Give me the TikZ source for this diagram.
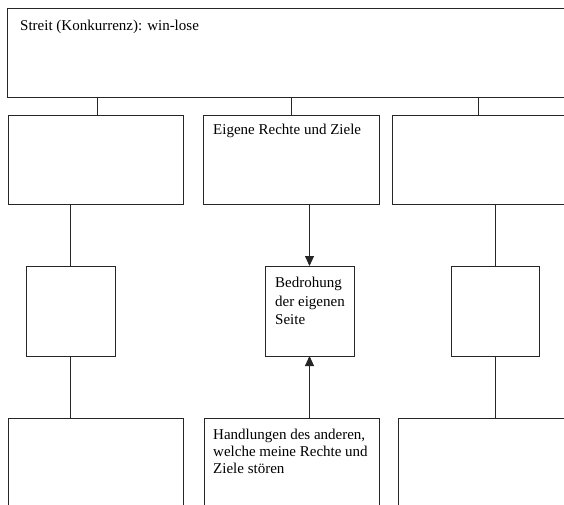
\documentclass[tikz,border=0pt]{standalone}
\usepackage{fontspec}
\setmainfont{Liberation Serif}
\usetikzlibrary{arrows.meta}
\begin{document}
\begin{tikzpicture}[x=1pt,y=-1pt,
  box/.style={draw=black!85, line width=0.9pt, rectangle, inner sep=0pt, outer sep=0pt, anchor=north west},
  lbl/.style={inner sep=0pt, font=\fontsize{15}{17}\selectfont, align=left},
  conn/.style={draw=black!85, line width=0.9pt},
  arr/.style={conn, -{Triangle[length=10pt,width=9pt]}}]
\useasboundingbox (0,0) rectangle (564,505);
\clip (0,0) rectangle (564,505);
% top box
\node[box, minimum width=600pt, minimum height=89pt] (top) at (7,8) {};
% row 1
\node[box, minimum width=175pt, minimum height=89pt] (l1) at (8,115) {};
\node[box, minimum width=176pt, minimum height=89pt] (m1) at (203,115) {};
\node[box, minimum width=200pt, minimum height=89pt] (r1) at (392,115) {};
% row 2
\node[box, minimum width=89pt, minimum height=90pt] (l2) at (26,266) {};
\node[box, minimum width=89pt, minimum height=90pt] (m2) at (265,266) {};
\node[box, minimum width=88pt, minimum height=90pt] (r2) at (451,266) {};
% row 3
\node[box, minimum width=175pt, minimum height=120pt] (l3) at (8,418) {};
\node[box, minimum width=175pt, minimum height=120pt] (m3) at (204,418) {};
\node[box, minimum width=200pt, minimum height=120pt] (r3) at (398,418) {};
% texts
\node[lbl, anchor=base west] (t0) at (20,31) {Streit (Konkurrenz): win-lose};
\node[lbl, anchor=base west] (t1) at (213,135) {Eigene Rechte und Ziele};
\node[lbl, anchor=north west, font=\fontsize{15}{18.5}\selectfont] (t2) at (275,277) {Bedrohung\\der eigenen\\Seite};
\node[lbl, anchor=north west] (t3) at (213,429) {Handlungen des anderen,\\welche meine Rechte und\\Ziele stören};
% connectors from top
\coordinate (lt) at (97.5,115);
\coordinate (rt) at (478,115);
\draw[conn] (top.south -| lt) -- (lt);
\draw[conn] (top.south -| m1.north) -- (m1.north);
\draw[conn] (top.south -| rt) -- (rt);
% columns
\draw[conn] (l1.south -| l2.north) -- (l2.north);
\draw[conn] (l2.south) -- (l3.north -| l2.south);
\draw[arr] (m1.south -| m2.north) -- (m2.north);
\draw[arr] (m3.north -| m2.south) -- (m2.south);
\draw[conn] (r1.south -| r2.north) -- (r2.north);
\draw[conn] (r2.south) -- (r3.north -| r2.south);
\end{tikzpicture}
\end{document}
